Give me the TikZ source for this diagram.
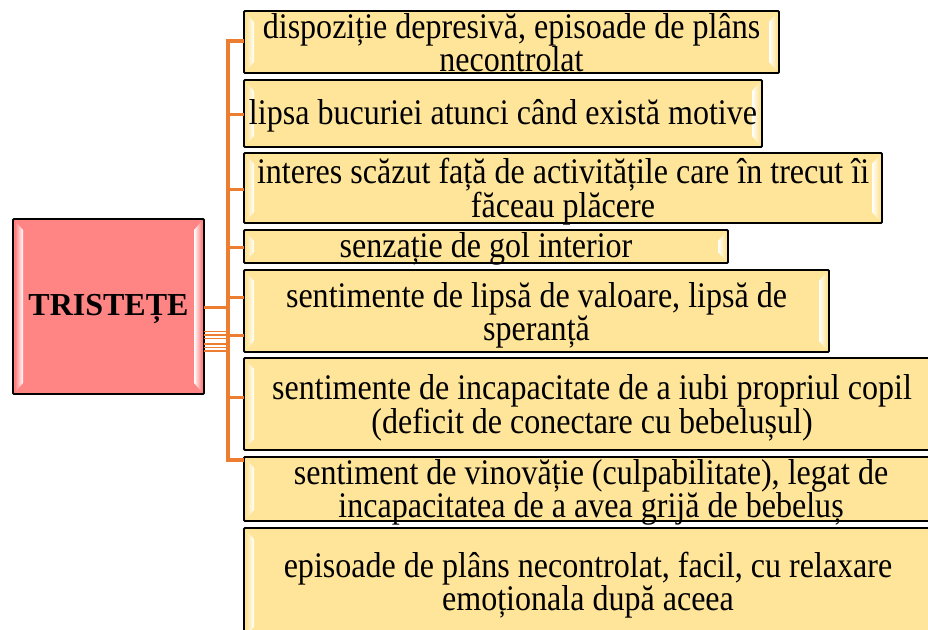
\documentclass[tikz,border=0pt]{standalone}
\usepackage{fontspec}
\setmainfont{Liberation Serif}
\newfontfamily\bodyfont[FakeStretch=0.89]{Liberation Serif}
\usetikzlibrary{calc}
\definecolor{boxyellow}{HTML}{FFE599}
\definecolor{boxpink}{HTML}{FF8585}
\definecolor{connorange}{HTML}{ED7D31}
\newcommand\bevelhl[2]{%
  \shade[left color=#2, right color=white]
    ($(#1.north west)+(2.5,2.5)$) -- ($(#1.north west)+(10,11)$) --
    ($(#1.south west)+(10,-11)$) -- ($(#1.south west)+(2.5,-2.5)$) -- cycle;
  \shade[left color=white, right color=#2]
    ($(#1.north east)+(-10,11)$) -- ($(#1.north east)+(-2.5,2.5)$) --
    ($(#1.south east)+(-2.5,-2.5)$) -- ($(#1.south east)+(-10,-11)$) -- cycle;
}
\tikzset{
  itembox/.style={draw=black, line width=1.8pt, rounded corners=1pt, fill=boxyellow,
    anchor=north west, inner sep=0pt, outer sep=0pt},
  mainbox/.style={draw=black, line width=1.8pt, rounded corners=1pt, fill=boxpink,
    anchor=north west, inner sep=0pt, outer sep=0pt},
  itemtext/.style={font={\bodyfont\fontsize{36pt}{33pt}\selectfont}, align=center,
    inner sep=0pt, text=black},
  maintext/.style={font={\fontsize{32pt}{36pt}\selectfont\bfseries}, inner sep=0pt, text=black},
  conn/.style={draw=connorange, line width=3pt},
  spine/.style={draw=connorange, line width=3.5pt, line join=miter},
  thinconn/.style={draw=connorange, line width=1.8pt},
}
\begin{document}
\begin{tikzpicture}[x=1pt,y=-1pt]
\useasboundingbox (0,0) rectangle (928,629);
\clip (0,0) rectangle (928,629);
\fill[white] (0,0) rectangle (928,629);

% spine coordinates
\coordinate (s1) at (228,41);
\coordinate (s2) at (228,114);
\coordinate (s3) at (228,189);
\coordinate (s4) at (228,247);
\coordinate (s5) at (228,297);
\coordinate (s6) at (228,335);
\coordinate (s7) at (228,397);
\coordinate (s8) at (228,460);
\coordinate (j0) at (228,307);
\coordinate (j1) at (228,331.5);
\coordinate (j2) at (228,335);
\coordinate (j3) at (228,338.5);
\coordinate (j4) at (228,344);
\coordinate (j5) at (228,347.5);
\coordinate (j6) at (228,351);

% boxes
\node[mainbox, minimum width=191pt, minimum height=175pt] (tr) at (13,219) {};
\node[itembox, minimum width=535pt, minimum height=62pt] (b1) at (244,11) {};
\node[itembox, minimum width=518pt, minimum height=67pt] (b2) at (244,80) {};
\node[itembox, minimum width=638pt, minimum height=70pt] (b3) at (244,153) {};
\node[itembox, minimum width=484pt, minimum height=33pt] (b4) at (244,230) {};
\node[itembox, minimum width=585pt, minimum height=82pt] (b5) at (244,270) {};
\node[itembox, minimum width=694pt, minimum height=92pt] (b6) at (244,358) {};
\node[itembox, minimum width=694pt, minimum height=64pt] (b7) at (244,457) {};
\node[itembox, minimum width=694pt, minimum height=110pt] (b8) at (244,528) {};

% bevel highlights
\bevelhl{tr}{boxpink}
\bevelhl{b1}{boxyellow}
\bevelhl{b2}{boxyellow}
\bevelhl{b3}{boxyellow}
\bevelhl{b4}{boxyellow}
\bevelhl{b5}{boxyellow}
\bevelhl{b6}{boxyellow}
\bevelhl{b7}{boxyellow}
\bevelhl{b8}{boxyellow}

% connectors
\draw[spine] (s1 -| b1.west) -- (s1) -- (s8) -- (s8 -| b7.west);
\draw[conn] (s2) -- (s2 -| b2.west);
\draw[conn] (s3) -- (s3 -| b3.west);
\draw[conn] (s4) -- (s4 -| b4.west);
\draw[conn] (s5) -- (s5 -| b5.west);
\draw[conn] (s6) -- (s6 -| b5.west);
\draw[conn] (s7) -- (s7 -| b6.west);
\draw[conn] (j0 -| tr.east) -- (j0);
\draw[thinconn] (j1 -| tr.east) -- (j1);
\draw[thinconn] (j2 -| tr.east) -- (j2);
\draw[thinconn] (j3 -| tr.east) -- (j3);
\draw[thinconn] (j4 -| tr.east) -- (j4);
\draw[thinconn] (j5 -| tr.east) -- (j5);
\draw[thinconn] (j6 -| tr.east) -- (j6);

% texts
\node[maintext] (trt) at ([yshift=-2pt]tr.center) {TRISTEȚE};
\node[itemtext] (t1) at ([yshift=-1pt]b1.center) {dispoziție depresivă, episoade de plâns\\necontrolat};
\node[itemtext] (t2) at ([yshift=-2pt]b2.center) {lipsa bucuriei atunci când există motive};
\node[itemtext] (t3) at ([yshift=-4pt]b3.center) {interes scăzut față de activitățile care în trecut îi\\făceau plăcere};
\node[itemtext] (t4) at ([yshift=-2pt]b4.center) {senzație de gol interior};
\node[itemtext] (t5) at ([yshift=-4pt]b5.center) {sentimente de lipsă de valoare, lipsă de\\speranță};
\node[itemtext] (t6) at ([xshift=1pt,yshift=-4pt]b6.center) {sentimente de incapacitate de a iubi propriul copil\\(deficit de conectare cu bebelușul)};
\node[itemtext] (t7) at ([xshift=0pt,yshift=-3pt]b7.center) {sentiment de vinovăție (culpabilitate), legat de\\incapacitatea de a avea grijă de bebeluș};
\node[itemtext] (t8) at ([xshift=-3pt,yshift=-2pt]b8.center) {episoade de plâns necontrolat, facil, cu relaxare\\emoționala după aceea};
\end{tikzpicture}
\end{document}
